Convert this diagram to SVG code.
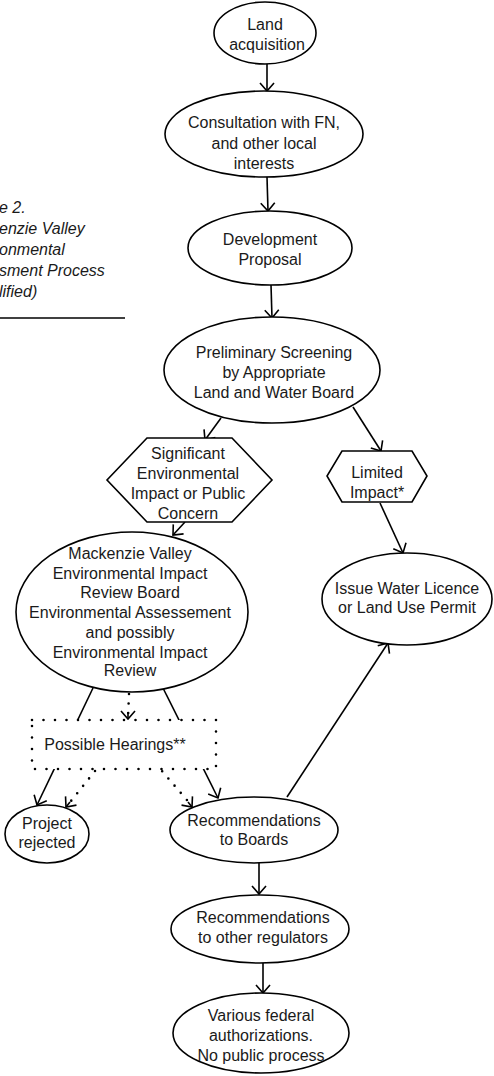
<svg xmlns="http://www.w3.org/2000/svg" width="494" height="1076" viewBox="0 0 494 1076">
<style>
.n{fill:#fff;stroke:#000;stroke-width:1.6}
.t{font-family:"Liberation Sans",Arial,sans-serif;font-size:16px;fill:#1a1a1a;text-anchor:middle}
.ti{font-family:"Liberation Sans",Arial,sans-serif;font-size:16px;font-style:italic;fill:#1a1a1a}
.c{fill:none;stroke:#000;stroke-width:1.6}
.d{fill:none;stroke:#000;stroke-width:2.6;stroke-linecap:round;stroke-dasharray:0 9.5}
.box{fill:#fff;stroke:#000;stroke-width:2.6;stroke-linecap:round;stroke-dasharray:0 11.5}
</style>
<defs>
<marker id="ah" viewBox="-10 -10 20 20" markerWidth="20" markerHeight="20" refX="0" refY="0" orient="auto" markerUnits="userSpaceOnUse">
<path d="M-8,-7 L0,0 L-8,7" fill="none" stroke="#000" stroke-width="1.6" stroke-dasharray="none"/>
</marker>
</defs>
<g id="title">
<text class="ti" x="-1" y="213">e 2.</text>
<text class="ti" x="-1" y="234">enzie Valley</text>
<text class="ti" x="-1" y="255">onmental</text>
<text class="ti" x="-1" y="276">sment Process</text>
<text class="ti" x="-1" y="297">lified)</text>
<line x1="0" y1="318" x2="125" y2="318" stroke="#000" stroke-width="1.6"/>
</g>
<g id="connectors">
<line class="c" x1="267" y1="64" x2="267" y2="91" marker-end="url(#ah)"/>
<line class="c" x1="267" y1="177" x2="268" y2="211" marker-end="url(#ah)"/>
<line class="c" x1="271" y1="285" x2="272" y2="318" marker-end="url(#ah)"/>
<line class="c" x1="221" y1="418" x2="205" y2="440" marker-end="url(#ah)"/>
<line class="c" x1="353" y1="407" x2="381" y2="451" marker-end="url(#ah)"/>
<line class="c" x1="380" y1="503" x2="403" y2="553" marker-end="url(#ah)"/>
<line class="c" x1="185" y1="522" x2="173" y2="535" marker-end="url(#ah)"/>
<line class="c" x1="93" y1="688" x2="37" y2="805" marker-end="url(#ah)"/>
<line class="c" x1="163" y1="688" x2="218" y2="798" marker-end="url(#ah)"/>
<line class="d" x1="129" y1="694" x2="128" y2="718"/>
<line class="c" x1="128" y1="712" x2="128" y2="719" marker-end="url(#ah)" stroke="none"/>
<line class="d" x1="95" y1="771" x2="67" y2="806"/>
<line class="c" x1="70" y1="802" x2="66" y2="807" marker-end="url(#ah)" stroke="none"/>
<line class="d" x1="156" y1="764" x2="192" y2="806"/>
<line class="c" x1="188" y1="802" x2="192" y2="807" marker-end="url(#ah)" stroke="none"/>
<line class="c" x1="287" y1="797" x2="388" y2="643" marker-end="url(#ah)"/>
<line class="c" x1="259" y1="863" x2="259" y2="894" marker-end="url(#ah)"/>
<line class="c" x1="263" y1="963" x2="263" y2="993" marker-end="url(#ah)"/>
</g>
<g id="land">
<ellipse class="n" cx="265" cy="33" rx="51" ry="31"/>
<text class="t" x="265" y="30">Land</text>
<text class="t" x="267" y="50">acquisition</text>
</g>
<g id="consultation">
<ellipse class="n" cx="264" cy="134" rx="99" ry="43"/>
<text class="t" x="264" y="128">Consultation with FN,</text>
<text class="t" x="264" y="149">and other local</text>
<text class="t" x="264" y="169">interests</text>
</g>
<g id="development">
<ellipse class="n" cx="270" cy="248" rx="82" ry="37"/>
<text class="t" x="270" y="245">Development</text>
<text class="t" x="270" y="265">Proposal</text>
</g>
<g id="screening">
<ellipse class="n" cx="272" cy="370" rx="108" ry="53"/>
<text class="t" x="274" y="358">Preliminary Screening</text>
<text class="t" x="274" y="378">by Appropriate</text>
<text class="t" x="274" y="398">Land and Water Board</text>
</g>
<g id="significant">
<polygon class="n" points="147,438 232,438 272,480 232,522 147,522 107,480"/>
<text class="t" x="188" y="459">Significant</text>
<text class="t" x="188" y="479">Environmental</text>
<text class="t" x="188" y="499">Impact or Public</text>
<text class="t" x="188" y="519">Concern</text>
</g>
<g id="limited">
<polygon class="n" points="342,451 412,451 427,476 412,502 342,502 327,476"/>
<text class="t" x="377" y="478">Limited</text>
<text class="t" x="377" y="498">Impact*</text>
</g>
<g id="issue">
<ellipse class="n" cx="407" cy="599" rx="85" ry="46"/>
<text class="t" x="407" y="594">Issue Water Licence</text>
<text class="t" x="407" y="613">or Land Use Permit</text>
</g>
<g id="mackenzie">
<ellipse class="n" cx="132" cy="612" rx="116" ry="80"/>
<text class="t" x="130" y="559">Mackenzie Valley</text>
<text class="t" x="130" y="579">Environmental Impact</text>
<text class="t" x="130" y="598">Review Board</text>
<text class="t" x="130" y="618">Environmental Assessement</text>
<text class="t" x="130" y="638">and possibly</text>
<text class="t" x="130" y="658">Environmental Impact</text>
<text class="t" x="130" y="676">Review</text>
</g>
<g id="hearings">
<rect class="box" x="32" y="720" width="184" height="49"/>
<text class="t" x="115" y="750">Possible Hearings**</text>
</g>
<g id="rejected">
<ellipse class="n" cx="47" cy="834" rx="42" ry="29"/>
<text class="t" x="47" y="829">Project</text>
<text class="t" x="47" y="848">rejected</text>
</g>
<g id="rec-boards">
<ellipse class="n" cx="254" cy="830" rx="84" ry="33"/>
<text class="t" x="254" y="826">Recommendations</text>
<text class="t" x="254" y="845">to Boards</text>
</g>
<g id="rec-regulators">
<ellipse class="n" cx="260" cy="929" rx="89" ry="34"/>
<text class="t" x="263" y="923">Recommendations</text>
<text class="t" x="263" y="943">to other regulators</text>
</g>
<g id="federal">
<ellipse class="n" cx="261" cy="1033" rx="88" ry="40"/>
<text class="t" x="261" y="1021">Various federal</text>
<text class="t" x="261" y="1041">authorizations.</text>
<text class="t" x="261" y="1061">No public process</text>
</g>
</svg>
